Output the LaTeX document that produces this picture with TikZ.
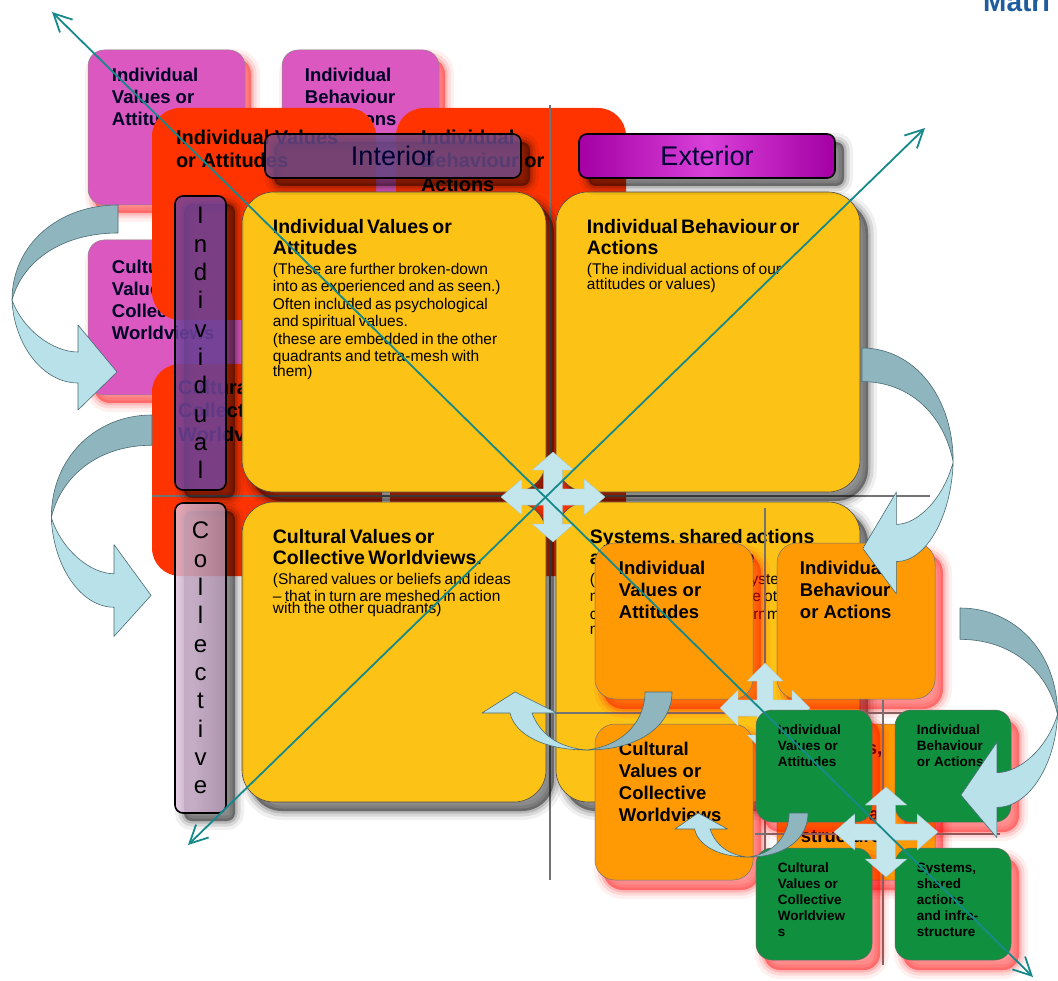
\documentclass[tikz,border=0pt]{standalone}
\usepackage{fontspec}
\setmainfont{Liberation Sans}
\usetikzlibrary{positioning,arrows.meta}

\definecolor{pinkcol}{HTML}{DA58BF}
\definecolor{redcol}{HTML}{FF3300}
\definecolor{yellowcol}{HTML}{FDC216}
\definecolor{orangecol}{HTML}{FF9A05}
\definecolor{greencol}{HTML}{10903F}
\definecolor{diagteal}{HTML}{16898B}
\definecolor{bendlight}{HTML}{B9E1E9}
\definecolor{benddark}{HTML}{8FB6BF}
\definecolor{bendline}{HTML}{4A6B73}
\definecolor{crossblue}{HTML}{C3E5EC}
\definecolor{titleblue}{HTML}{1F5C9E}
\definecolor{interiorcol}{HTML}{6E4C8E}
\definecolor{individualcol}{HTML}{7446A2}

\tikzset{
  softshadow/.style 2 args={
    preaction={shade=false, fill=#1, draw=#1, line width=18pt, opacity=.06, transform canvas={shift={(#2)}}},
    preaction={shade=false, fill=#1, draw=#1, line width=11pt, opacity=.1, transform canvas={shift={(#2)}}},
    preaction={shade=false, fill=#1, draw=#1, line width=5pt, opacity=.14, transform canvas={shift={(#2)}}},
    preaction={shade=false, fill=#1, opacity=.2, transform canvas={shift={(#2)}}}
  }
}

\tikzstyle{pinkcard}=[rectangle, rounded corners=16pt, fill=pinkcol, draw=black!45, line width=0.5pt, minimum width=157pt, minimum height=155pt, inner sep=0pt, softshadow={red}{6pt,-8pt}]
\tikzstyle{redcard}=[rectangle, rounded corners=28pt, fill=redcol, inner sep=0pt]
\tikzstyle{quad}=[rectangle, rounded corners=32pt, fill=yellowcol, draw=black!70, line width=0.6pt, minimum width=304pt, minimum height=300pt, inner sep=0pt, softshadow={black}{8pt,-9pt}]
\tikzstyle{orangecard}=[rectangle, rounded corners=20pt, fill=orangecol, draw=black!55, line width=0.5pt, minimum width=158pt, minimum height=156pt, inner sep=0pt, softshadow={red}{8pt,-10pt}]
\tikzstyle{greencard}=[rectangle, rounded corners=16pt, fill=greencol, draw=black!60, line width=0.5pt, minimum width=116pt, minimum height=112pt, inner sep=0pt, softshadow={red}{8pt,-10pt}]
\tikzstyle{axisline}=[draw=black!55, line width=1.2pt]

\tikzstyle{pinktext}=[inner sep=0pt, align=left, text=black!85!blue, font=\bfseries\fontsize{18.5}{22}\selectfont]
\tikzstyle{redtext}=[inner sep=0pt, align=left, font=\bfseries\fontsize{20}{23.5}\selectfont]
\tikzstyle{quadtext}=[inner sep=0pt, text width=292pt, align=left]
\tikzstyle{orangetext}=[inner sep=0pt, align=left, font=\bfseries\fontsize{18.5}{22}\selectfont]
\tikzstyle{greentext}=[inner sep=0pt, align=left, font=\bfseries\fontsize{13.5}{16}\selectfont]

\tikzstyle{sidebar}=[rectangle, rounded corners=8pt, draw=black, line width=1.6pt, inner sep=0pt, text opacity=1, softshadow={black}{9pt,-8pt}]
\tikzstyle{headbar}=[sidebar, minimum width=256pt, minimum height=44pt, font=\fontsize{27}{30}\selectfont, text=black!80!blue]
\tikzstyle{letterbar}=[sidebar, minimum width=51pt, align=center, font=\fontsize{24}{28.3}\selectfont]

\tikzstyle{bendpart}=[draw=bendline, line width=0.6pt, line join=round]
\tikzstyle{crosspart}=[fill=crossblue, draw=crossblue!85!black, line width=0.3pt]
\tikzstyle{diag}=[draw=diagteal, line width=1.8pt, >={Straight Barb[length=18pt,width=18pt]}, <->]

\newcommand{\qtitle}{\bfseries\fontsize{19.5}{21}\selectfont}
\newcommand{\qbody}{\mdseries\fontsize{15.5}{17.4}\selectfont}

% curved block arrow, start of the band at the origin
\newcommand{\bendarrow}[1]{%
  \begin{scope}[#1]
    \filldraw[bendpart, fill=benddark] (0,0) .. controls (-60,0) and (-106,40) .. (-106,95) .. controls (-95,55) and (-55,28) .. (0,28) -- cycle;
    \filldraw[bendpart, fill=bendlight] (-106,95) .. controls (-104,140) and (-75,178) .. (-40,178) -- (-40,205) -- (-1,167) -- (-40,120) -- (-40,147) .. controls (-65,147) and (-95,125) .. (-106,95) -- cycle;
  \end{scope}}
% small u-turn arrow
\newcommand{\hookarrow}[1]{%
  \begin{scope}[#1]
    \filldraw[bendpart, fill=benddark] (0,0) .. controls (0,33) and (-32,58) .. (-85,58) .. controls (-47,53) and (-27,28) .. (-27,0) -- cycle;
    \filldraw[bendpart, fill=bendlight] (-85,58) .. controls (-127,58) and (-157,43) .. (-162,21) -- (-190,21) -- (-157,0) -- (-115,21) -- (-140,21) .. controls (-132,43) and (-112,56) .. (-85,58) -- cycle;
  \end{scope}}
% four-way arrow
\newcommand{\crossarrow}[2]{%
  \begin{scope}[shift={#1}, #2]
    \filldraw[crosspart] (50,0) -- (30,20) -- (30,9) -- (9,9) -- (9,30) -- (20,30) -- (0,50) -- (-20,30) -- (-9,30) -- (-9,9) -- (-30,9) -- (-30,20) -- (-50,0) -- (-30,-20) -- (-30,-9) -- (-9,-9) -- (-9,-30) -- (-20,-30) -- (0,-50) -- (20,-30) -- (9,-30) -- (9,-9) -- (30,-9) -- (30,-20) -- cycle;
  \end{scope}}

\begin{document}
\begin{tikzpicture}[x=1pt, y=-1pt]
\useasboundingbox (0,0) rectangle (1058,981);
\clip (0,0) rectangle (1058,981);
\fill[white] (0,0) rectangle (1058,981);

% pink layer
\node[pinkcard] at (166.5, 127.5) (pIV) {};
\node[pinkcard] at (360.5, 127.5) (pBeh) {};
\node[pinkcard] at (166.5, 317.5) (pCul) {};
\node[pinktext, below right=18pt and 24pt of pIV.north west] (pIVtext) {Individual\\Values or\\Attitudes};
\node[pinktext, below right=18pt and 23pt of pBeh.north west] (pBehtext) {Individual\\Behaviour\\or Actions};
\node[pinktext, below right=20pt and 24pt of pCul.north west] (pCultext) {Cultural\\Values or\\Collective\\Worldviews};
\bendarrow{shift={(118,205)}}

% red layer
\node[redcard, minimum width=224pt, minimum height=212pt] at (264, 214) (rIV) {};
\node[redcard, minimum width=230pt, minimum height=240pt] at (511, 228) (rBeh) {};
\node[redcard, minimum width=230pt, minimum height=212pt] at (267, 470) (rCul) {};
\node[redcard, minimum width=236pt, minimum height=228pt] at (508, 462) (rSys) {};
\node[redtext, below right=22pt and 24pt of rIV.north west] (rIVtext) {Individual Values\\or Attitudes};
\node[redtext, below right=22pt and 25pt of rBeh.north west] (rBehtext) {Individual\\Behaviour or\\Actions};
\node[redtext, below right=16pt and 26pt of rCul.north west] (rCultext) {Cultural Values or\\Collective\\Worldviews};
\bendarrow{shift={(152,415)}, xscale=0.95, yscale=1.08}

% yellow layer
\draw[axisline] (550,105) -- (550,880);
\draw[axisline] (152,496) -- (930,496);
\node[quad] at (394, 342) (qIV) {};
\node[quad] at (708, 342) (qBeh) {};
\node[quad] at (394, 652) (qCul) {};
\node[quad] at (708, 652) (qSys) {};
\node[quadtext, below right=27pt and 31pt of qIV.north west] (qIVtext) {{\qtitle Individual Values or\\Attitudes\par}\vskip3pt\qbody (These are further broken-down\\into as experienced and as seen.)\\Often included as psychological\\and spiritual values.\\(these are embedded in the other\\quadrants and tetra-mesh with\\them)};
\node[quadtext, below right=27pt and 31pt of qBeh.north west] (qBehtext) {{\qtitle Individual Behaviour or\\Actions\par}\vskip3pt\qbody (The individual actions of our\\attitudes or values)};
\node[quadtext, below right=27pt and 31pt of qCul.north west] (qCultext) {{\qtitle Cultural Values or\\Collective Worldviews.\par}\vskip3pt\qbody (Shared values or beliefs and ideas\\-- that in turn are meshed in action\\with the other quadrants)};
\node[quadtext, below right=27pt and 34pt of qSys.north west] (qSystext) {{\qtitle Systems, shared actions\\and infrastructure\par}\vskip3pt\qbody (These are the shared systems\\meshed in action with the other\\communities, local government\\matters)};

% axis labels
\node[headbar, fill=interiorcol, fill opacity=.8] at (393, 156) (interior) {Interior};
\node[headbar, left color=black!30!violet!55!magenta, right color=black!30!violet!55!magenta, middle color=violet!40!magenta!75!white] at (707, 156) (exterior) {Exterior};
\node[letterbar, fill=individualcol, fill opacity=.82, minimum height=294pt] at (200.5, 343) (indiv) {I\\n\\d\\i\\v\\i\\d\\u\\a\\l};
\node[letterbar, left color=violet!22!white, right color=violet!40!gray!60!white, fill opacity=.8, minimum height=310pt] at (200.5, 658) (coll) {C\\o\\l\\l\\e\\c\\t\\i\\v\\e};
\crossarrow{(553,497)}{xscale=1.04, yscale=0.9}

% orange layer
\draw[axisline] (765,508) -- (765,925);
\draw[axisline] (555,713) -- (945,713);
\node[orangecard] at (674, 621) (oIV) {};
\node[orangecard] at (856, 621) (oBeh) {};
\node[orangecard] at (674, 802) (oCul) {};
\node[orangecard] at (856, 802) (oSys) {};
\node[orangetext, below right=18pt and 24pt of oIV.north west] (oIVtext) {Individual\\Values or\\Attitudes};
\node[orangetext, below right=18pt and 23pt of oBeh.north west] (oBehtext) {Individual\\Behaviour\\or Actions};
\node[orangetext, below right=18pt and 24pt of oCul.north west] (oCultext) {Cultural\\Values or\\Collective\\Worldviews};
\node[orangetext, below right=18pt and 24pt of oSys.north west] (oSystext) {Systems,\\shared\\actions\\and infra-\\structure};
\bendarrow{shift={(862,348)}, xscale=-0.86, yscale=1.2}
\hookarrow{shift={(672,692)}}
\crossarrow{(765,708)}{scale=0.9}

% green layer
\draw[axisline] (883,700) -- (883,965);
\draw[axisline] (755,834) -- (1000,834);
\node[greencard] at (814, 766) (gIV) {};
\node[greencard] at (953, 766) (gBeh) {};
\node[greencard] at (814, 904) (gCul) {};
\node[greencard] at (953, 904) (gSys) {};
\node[greentext, below right=15pt and 22pt of gIV.north west] (gIVtext) {Individual\\Values or\\Attitudes};
\node[greentext, below right=15pt and 22pt of gBeh.north west] (gBehtext) {Individual\\Behaviour\\or Actions};
\node[greentext, below right=15pt and 22pt of gCul.north west] (gCultext) {Cultural\\Values or\\Collective\\Worldview\\s};
\node[greentext, below right=15pt and 22pt of gSys.north west] (gSystext) {Systems,\\shared\\actions\\and infra-\\structure};
\bendarrow{shift={(960,608)}, xscale=-0.92, yscale=1.12}
\hookarrow{shift={(808,813)}, xscale=0.7, yscale=0.76}
\crossarrow{(886,832)}{xscale=1.04, yscale=0.9}

% diagonals
\coordinate (nwTip) at (52,12);
\coordinate (seTip) at (1033,977);
\coordinate (swTip) at (188,845);
\coordinate (neTip) at (925,128);
\draw[diag] (nwTip) -- (seTip);
\draw[diag] (swTip) -- (neTip);

\node[anchor=base west, inner sep=0pt, text=titleblue, font=\bfseries\fontsize{28}{30}\selectfont] at (983,12) (title) {Matri};
\end{tikzpicture}
\end{document}
